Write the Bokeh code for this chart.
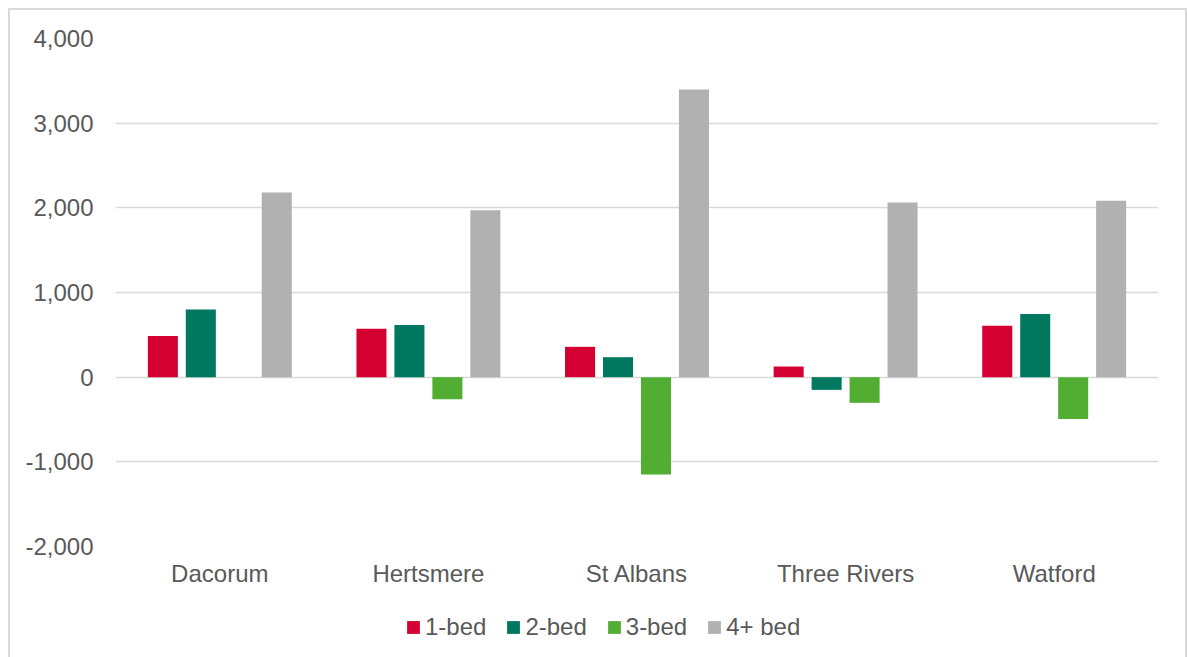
from bokeh.plotting import figure
from bokeh.layouts import column
from bokeh.models import (ColumnDataSource, FactorRange, Range1d, FixedTicker, Legend, LegendItem,
                          NumeralTickFormatter)
from bokeh.transform import dodge
from bokeh.embed import file_html
from bokeh.resources import INLINE

districts = ["Dacorum", "Hertsmere", "St Albans", "Three Rivers", "Watford"]
series_names = ["1-bed", "2-bed", "3-bed", "4+ bed"]
bed1 = [486, 571, 358, 126, 607]
bed2 = [798, 617, 236, -150, 746]
bed3 = [0, -261, -1150, -303, -493]
bed4 = [2182, 1972, 3398, 2063, 2083]
y_ticks = [-2000, -1000, 0, 1000, 2000, 3000, 4000]

colors = ["#D50032", "#00785F", "#52AE32", "#B1B1B1"]
FONT = "Liberation Sans"
TEXT_COLOR = "#595959"
FS = "24px"
W = 1175
LEG_H = 60
MAIN_H = 647 - LEG_H

source = ColumnDataSource(dict(x=districts, b1=bed1, b2=bed2, b3=bed3, b4=bed4))

p = figure(x_range=FactorRange(factors=districts, range_padding=0),
           y_range=Range1d(-2000, 4000),
           width=W, height=MAIN_H, output_backend="svg", toolbar_location=None,
           min_border_left=105, min_border_right=27, min_border_top=28,
           min_border_bottom=MAIN_H - 28 - 508)
p.outline_line_color = None
p.background_fill_color = "white"
p.border_fill_color = "white"

offsets = [-0.273, -0.091, 0.091, 0.273]
cols = ["b1", "b2", "b3", "b4"]
for col, off, c in zip(cols, offsets, colors):
    p.vbar(x=dodge("x", off, range=p.x_range), top=col, bottom=0, width=0.144,
           source=source, fill_color=c, line_color=None)

p.yaxis.ticker = FixedTicker(ticks=y_ticks)
p.yaxis.formatter = NumeralTickFormatter(format="0,0")
for ax in (p.xaxis[0], p.yaxis[0]):
    ax.axis_line_color = None
    ax.major_tick_line_color = None
    ax.minor_tick_line_color = None
    ax.major_tick_out = 0
    ax.major_tick_in = 0
    ax.major_label_text_font = FONT
    ax.major_label_text_font_size = FS
    ax.major_label_text_color = TEXT_COLOR
p.yaxis.major_label_standoff = 22
p.xaxis.major_label_standoff = 13

p.xgrid.grid_line_color = None
p.ygrid.ticker = FixedTicker(ticks=y_ticks)
p.ygrid.grid_line_color = "#D9D9D9"
p.ygrid.grid_line_width = 1.3

# legend strip below the chart (its frame is aligned with the main frame by the column)
leg = figure(width=W, height=LEG_H, x_range=Range1d(0, 100), y_range=Range1d(0, 100),
             output_backend="svg", toolbar_location=None, min_border=0)
leg.axis.visible = False
leg.grid.visible = False
leg.outline_line_color = None
leg.background_fill_color = "white"
leg.border_fill_color = "white"
# legend-key renderers: a single zero-size bar placed outside the visible range
dummy = [leg.vbar(x=[-1000], top=[0], bottom=[0], width=0, fill_color=c, line_color=None)
         for c in colors]
legend = Legend(items=[LegendItem(label=n, renderers=[r]) for n, r in zip(series_names, dummy)],
                orientation="horizontal", location=(290, 16),
                glyph_width=16, glyph_height=16, label_standoff=4, spacing=19,
                padding=0, margin=0, border_line_color=None, background_fill_alpha=0,
                label_text_font=FONT, label_text_font_size=FS, label_text_color=TEXT_COLOR)
leg.add_layout(legend, "center")

layout = column(p, leg, spacing=0,
                styles={"margin-left": "8px", "margin-top": "8px",
                        "border-left": "2px solid #D9D9D9", "border-top": "2px solid #D9D9D9",
                        "border-right": "2px solid #D9D9D9"})

open("out.html", "w").write(file_html(layout, INLINE))
